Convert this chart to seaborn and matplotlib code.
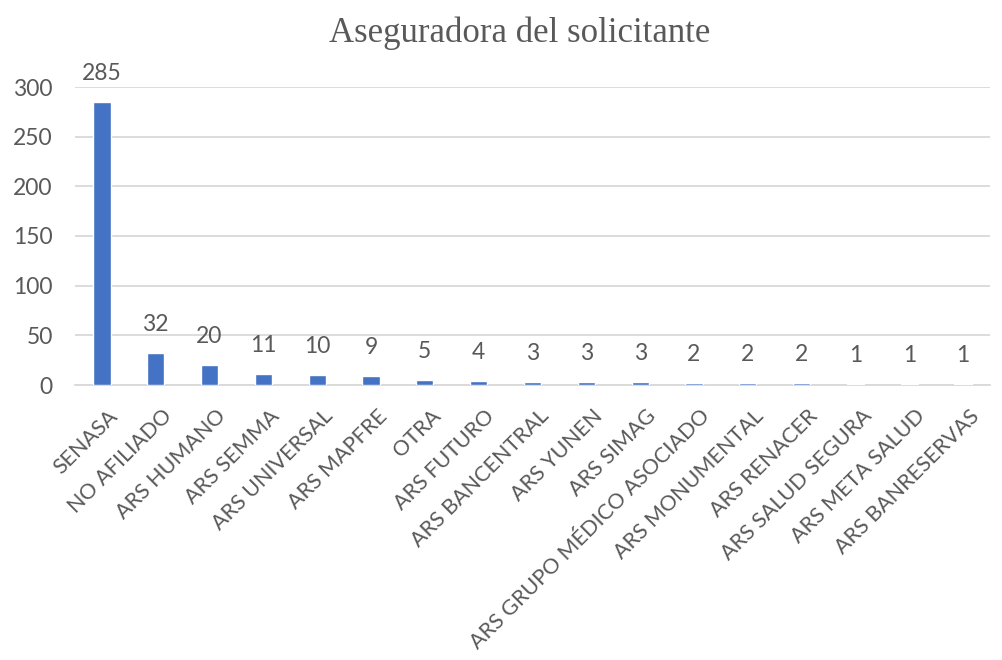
import matplotlib
matplotlib.use("Agg")
import matplotlib.pyplot as plt
import matplotlib.transforms as mtrans
import seaborn as sns
import pandas as pd

categories = ["SENASA", "NO AFILIADO", "ARS HUMANO", "ARS SEMMA", "ARS UNIVERSAL",
              "ARS MAPFRE", "OTRA", "ARS FUTURO", "ARS BANCENTRAL", "ARS YUNEN",
              "ARS SIMAG", "ARS GRUPO MÉDICO ASOCIADO", "ARS MONUMENTAL",
              "ARS RENACER", "ARS SALUD SEGURA", "ARS META SALUD", "ARS BANRESERVAS"]
values = [285, 32, 20, 11, 10, 9, 5, 4, 3, 3, 3, 2, 2, 2, 1, 1, 1]
title = "Aseguradora del solicitante"
yticks = [0, 50, 100, 150, 200, 250, 300]

df = pd.DataFrame({"cat": categories, "val": values})

sns.set_theme(style="white")
plt.rcParams["font.family"] = ["Lato", "DejaVu Sans"]

fig = plt.figure(figsize=(10.02, 6.6), dpi=100)
ax = fig.add_axes([75/1002, 1-385/660, (990-75)/1002, (385-87)/660])

sns.barplot(data=df, x="cat", y="val", color="#4472C4", width=0.32,
            saturation=1, ax=ax, zorder=3)

ax.set_ylim(0, 300)
ax.set_xlim(-0.5, len(categories)-0.5)
ax.set_yticks(yticks)
ax.yaxis.grid(True, color="#D9D9D9", linewidth=1.3, zorder=0)
ax.set_axisbelow(True)
for s in ["top", "right", "left"]:
    ax.spines[s].set_visible(False)
ax.spines["bottom"].set_color("#D9D9D9")
ax.spines["bottom"].set_linewidth(1.3)
ax.set_xlabel("")
ax.set_ylabel("")
ax.tick_params(axis="y", length=0, pad=16, labelsize=16.5, labelcolor="#595959")
ax.tick_params(axis="x", length=0, pad=15, labelsize=15.5, labelcolor="#595959")
shift = mtrans.ScaledTranslation(6/100, 0, fig.dpi_scale_trans)
for lab in ax.get_xticklabels():
    lab.set_rotation(45)
    lab.set_ha("right")
    lab.set_va("top")
    lab.set_rotation_mode("anchor")
    lab.set_transform(lab.get_transform() + shift)

for i, v in enumerate(values):
    ax.annotate(str(v), (i, v), xytext=(0, 13), textcoords="offset points",
                ha="center", va="bottom", fontsize=16.5, color="#595959")

fig.text(520/1002, 1-33/660, title, ha="center", va="center",
         fontsize=25, color="#595959", family=["Liberation Serif", "DejaVu Serif"])

fig.savefig("out.png", dpi=100)
